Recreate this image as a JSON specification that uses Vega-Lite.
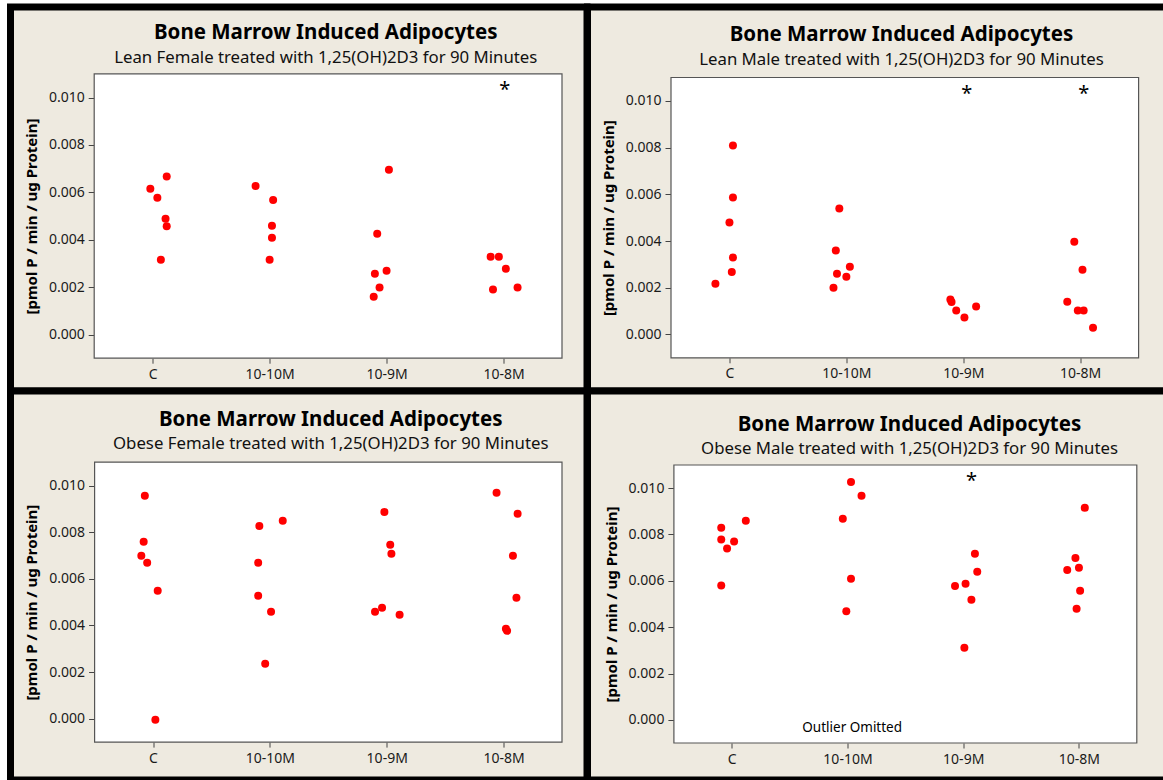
{
  "$schema": "https://vega.github.io/schema/vega-lite/v6.json",
  "background": "white",
  "padding": {"left": 6.5, "top": 3, "right": -7, "bottom": -3},
  "config": {
    "font": "Noto Sans",
    "view": {"fill": "#EEEAE0", "stroke": "#000000", "strokeWidth": 7},
    "title": {"font": "Noto Sans", "fontSize": 20.5, "fontWeight": "bold", "color": "#000000", "subtitleFont": "Noto Sans", "subtitleFontSize": 16.8, "subtitleColor": "#111111", "subtitlePadding": 6, "anchor": "middle", "frame": "group"},
    "axis": {"domain": false, "grid": false, "labelFont": "Noto Sans", "labelFontSize": 14, "labelColor": "#1a1a1a", "tickColor": "#444444", "titleFont": "Noto Sans", "titleFontSize": 15, "titleFontWeight": "bold", "titleColor": "#000000"}
  },
  "datasets": {
    "lf": [
      {"dose": "C", "v": 0.00615, "j": -0.02}, {"dose": "C", "v": 0.00577, "j": 0.04}, {"dose": "C", "v": 0.00667, "j": 0.12}, {"dose": "C", "v": 0.00488, "j": 0.11}, {"dose": "C", "v": 0.00457, "j": 0.12}, {"dose": "C", "v": 0.00315, "j": 0.07},
      {"dose": "10-10M", "v": 0.00627, "j": -0.12}, {"dose": "10-10M", "v": 0.00568, "j": 0.03}, {"dose": "10-10M", "v": 0.00459, "j": 0.02}, {"dose": "10-10M", "v": 0.00408, "j": 0.02}, {"dose": "10-10M", "v": 0.00315, "j": 0.0},
      {"dose": "10-9M", "v": 0.00695, "j": 0.02}, {"dose": "10-9M", "v": 0.00425, "j": -0.08}, {"dose": "10-9M", "v": 0.00256, "j": -0.1}, {"dose": "10-9M", "v": 0.00269, "j": 0.0}, {"dose": "10-9M", "v": 0.00198, "j": -0.06}, {"dose": "10-9M", "v": 0.00159, "j": -0.11},
      {"dose": "10-8M", "v": 0.00328, "j": -0.11}, {"dose": "10-8M", "v": 0.00328, "j": -0.04}, {"dose": "10-8M", "v": 0.00277, "j": 0.02}, {"dose": "10-8M", "v": 0.0019, "j": -0.09}, {"dose": "10-8M", "v": 0.00198, "j": 0.12}
    ],
    "lm": [
      {"dose": "C", "v": 0.00809, "j": 0.03}, {"dose": "C", "v": 0.00586, "j": 0.03}, {"dose": "C", "v": 0.00479, "j": 0.0}, {"dose": "C", "v": 0.00329, "j": 0.03}, {"dose": "C", "v": 0.00267, "j": 0.02}, {"dose": "C", "v": 0.00217, "j": -0.12},
      {"dose": "10-10M", "v": 0.00539, "j": -0.06}, {"dose": "10-10M", "v": 0.00359, "j": -0.09}, {"dose": "10-10M", "v": 0.0029, "j": 0.03}, {"dose": "10-10M", "v": 0.0026, "j": -0.08}, {"dose": "10-10M", "v": 0.00247, "j": 0.0}, {"dose": "10-10M", "v": 0.002, "j": -0.11},
      {"dose": "10-9M", "v": 0.0015, "j": -0.11}, {"dose": "10-9M", "v": 0.00139, "j": -0.1}, {"dose": "10-9M", "v": 0.00102, "j": -0.06}, {"dose": "10-9M", "v": 0.00072, "j": 0.01}, {"dose": "10-9M", "v": 0.0012, "j": 0.11},
      {"dose": "10-8M", "v": 0.00397, "j": -0.05}, {"dose": "10-8M", "v": 0.00277, "j": 0.02}, {"dose": "10-8M", "v": 0.0014, "j": -0.11}, {"dose": "10-8M", "v": 0.00102, "j": -0.02}, {"dose": "10-8M", "v": 0.00102, "j": 0.03}, {"dose": "10-8M", "v": 0.00029, "j": 0.11}
    ],
    "of": [
      {"dose": "C", "v": 0.00956, "j": -0.07}, {"dose": "C", "v": 0.00759, "j": -0.08}, {"dose": "C", "v": 0.00699, "j": -0.1}, {"dose": "C", "v": 0.00669, "j": -0.05}, {"dose": "C", "v": 0.00549, "j": 0.04}, {"dose": "C", "v": -0.00004, "j": 0.02},
      {"dose": "10-10M", "v": 0.00849, "j": 0.11}, {"dose": "10-10M", "v": 0.00827, "j": -0.09}, {"dose": "10-10M", "v": 0.00669, "j": -0.1}, {"dose": "10-10M", "v": 0.00527, "j": -0.1}, {"dose": "10-10M", "v": 0.00459, "j": 0.01}, {"dose": "10-10M", "v": 0.00236, "j": -0.04},
      {"dose": "10-9M", "v": 0.00887, "j": -0.02}, {"dose": "10-9M", "v": 0.00746, "j": 0.03}, {"dose": "10-9M", "v": 0.00707, "j": 0.04}, {"dose": "10-9M", "v": 0.00476, "j": -0.04}, {"dose": "10-9M", "v": 0.00459, "j": -0.1}, {"dose": "10-9M", "v": 0.00446, "j": 0.11},
      {"dose": "10-8M", "v": 0.00969, "j": -0.06}, {"dose": "10-8M", "v": 0.00879, "j": 0.12}, {"dose": "10-8M", "v": 0.00699, "j": 0.08}, {"dose": "10-8M", "v": 0.00519, "j": 0.11}, {"dose": "10-8M", "v": 0.00386, "j": 0.02}, {"dose": "10-8M", "v": 0.00377, "j": 0.03}
    ],
    "om": [
      {"dose": "C", "v": 0.00859, "j": 0.12}, {"dose": "C", "v": 0.00829, "j": -0.09}, {"dose": "C", "v": 0.00778, "j": -0.09}, {"dose": "C", "v": 0.0077, "j": 0.02}, {"dose": "C", "v": 0.0074, "j": -0.04}, {"dose": "C", "v": 0.0058, "j": -0.09},
      {"dose": "10-10M", "v": 0.01027, "j": 0.03}, {"dose": "10-10M", "v": 0.00967, "j": 0.12}, {"dose": "10-10M", "v": 0.00868, "j": -0.04}, {"dose": "10-10M", "v": 0.00609, "j": 0.03}, {"dose": "10-10M", "v": 0.00469, "j": -0.01},
      {"dose": "10-9M", "v": 0.00717, "j": 0.1}, {"dose": "10-9M", "v": 0.00639, "j": 0.12}, {"dose": "10-9M", "v": 0.00587, "j": 0.02}, {"dose": "10-9M", "v": 0.00578, "j": -0.07}, {"dose": "10-9M", "v": 0.00518, "j": 0.07}, {"dose": "10-9M", "v": 0.00311, "j": 0.01},
      {"dose": "10-8M", "v": 0.00915, "j": 0.05}, {"dose": "10-8M", "v": 0.00699, "j": -0.03}, {"dose": "10-8M", "v": 0.00656, "j": 0.0}, {"dose": "10-8M", "v": 0.00647, "j": -0.1}, {"dose": "10-8M", "v": 0.00557, "j": 0.01}, {"dose": "10-8M", "v": 0.00479, "j": -0.02}
    ],
    "lf_sig": [{"dose": "10-8M", "v": 0.0103, "j": 0.01, "label": "*"}],
    "lm_sig": [{"dose": "10-9M", "v": 0.0103, "j": 0.03, "label": "*"}, {"dose": "10-8M", "v": 0.0103, "j": 0.03, "label": "*"}],
    "om_sig": [{"dose": "10-9M", "v": 0.0103, "j": 0.07, "label": "*"}, {"dose": "10-10M", "v": -0.00035, "j": 0.04, "label": "Outlier Omitted"}]
  },
  "concat": [
    {
      "width": 576.5, "height": 384,
      "title": {"text": "Bone Marrow Induced Adipocytes", "subtitle": "Lean Female treated with 1,25(OH)2D3 for 90 Minutes", "offset": -59.6, "dx": 27},
      "layer": [
        {"data": {"values": [{}]}, "mark": {"type": "rect", "fill": "white", "stroke": "#555555", "strokeWidth": 1.2},
         "encoding": {
           "x": {"datum": 0, "type": "quantitative", "scale": {"domain": [0, 1], "range": [83.7, 551.5]}, "axis": null},
           "x2": {"datum": 1},
           "y": {"datum": -0.001, "type": "quantitative", "scale": {"domain": [-0.001, 0.011], "range": [351.2, 66.8], "nice": false, "zero": false}, "axis": {"title": "[pmol P / min / ug Protein]", "offset": -83.7, "values": [0, 0.002, 0.004, 0.006, 0.008, 0.01], "format": ".3f", "tickSize": 6, "labelPadding": 4, "titlePadding": 9}},
           "y2": {"datum": 0.011}
         }},
        {"layer": [
          {"data": {"name": "lf"}, "mark": {"type": "circle", "size": 64, "color": "#FF0000", "opacity": 1},
           "encoding": {
             "x": {"field": "dose", "type": "nominal", "scale": {"type": "point", "domain": ["C", "10-10M", "10-9M", "10-8M"], "range": [83.7, 551.5], "padding": 0.5}, "axis": {"orient": "bottom", "title": null, "offset": -32.8, "tickSize": 5, "labelPadding": 4, "labelAngle": 0}},
             "xOffset": {"field": "j", "type": "quantitative", "scale": {"domain": [-0.5, 0.5], "range": [-58.5, 58.5]}},
             "y": {"field": "v", "type": "quantitative", "scale": {"domain": [-0.001, 0.011], "range": [351.2, 66.8], "nice": false, "zero": false}, "axis": {"title": "[pmol P / min / ug Protein]", "offset": -83.7, "values": [0, 0.002, 0.004, 0.006, 0.008, 0.01], "format": ".3f", "tickSize": 6, "labelPadding": 4, "titlePadding": 9}}
           }},
          {"data": {"name": "lf_sig"}, "mark": {"type": "text", "fontSize": 20, "color": "#000000", "baseline": "middle", "align": "center"},
           "encoding": {
             "text": {"field": "label"},
             "x": {"field": "dose", "type": "nominal", "scale": {"type": "point", "domain": ["C", "10-10M", "10-9M", "10-8M"], "range": [83.7, 551.5], "padding": 0.5}, "axis": {"orient": "bottom", "title": null, "offset": -32.8, "tickSize": 5, "labelPadding": 4, "labelAngle": 0}},
             "xOffset": {"field": "j", "type": "quantitative", "scale": {"domain": [-0.5, 0.5], "range": [-58.5, 58.5]}},
             "y": {"field": "v", "type": "quantitative", "scale": {"domain": [-0.001, 0.011], "range": [351.2, 66.8], "nice": false, "zero": false}, "axis": {"title": "[pmol P / min / ug Protein]", "offset": -83.7, "values": [0, 0.002, 0.004, 0.006, 0.008, 0.01], "format": ".3f", "tickSize": 6, "labelPadding": 4, "titlePadding": 9}}
           }}
        ]}
      ],
      "resolve": {"scale": {"x": "independent"}, "axis": {"x": "independent"}}
    },
    {
      "width": 580, "height": 384,
      "title": {"text": "Bone Marrow Induced Adipocytes", "subtitle": "Lean Male treated with 1,25(OH)2D3 for 90 Minutes", "offset": -61.3, "dx": 24},
      "layer": [
        {"data": {"values": [{}]}, "mark": {"type": "rect", "fill": "white", "stroke": "#555555", "strokeWidth": 1.2},
         "encoding": {
           "x": {"datum": 0, "type": "quantitative", "scale": {"domain": [0, 1], "range": [83.5, 551.1]}, "axis": null},
           "x2": {"datum": 1},
           "y": {"datum": -0.001, "type": "quantitative", "scale": {"domain": [-0.001, 0.011], "range": [350.8, 70.5], "nice": false, "zero": false}, "axis": {"title": "[pmol P / min / ug Protein]", "offset": -83.5, "values": [0, 0.002, 0.004, 0.006, 0.008, 0.01], "format": ".3f", "tickSize": 6, "labelPadding": 4, "titlePadding": 9}},
           "y2": {"datum": 0.011}
         }},
        {"layer": [
          {"data": {"name": "lm"}, "mark": {"type": "circle", "size": 64, "color": "#FF0000", "opacity": 1},
           "encoding": {
             "x": {"field": "dose", "type": "nominal", "scale": {"type": "point", "domain": ["C", "10-10M", "10-9M", "10-8M"], "range": [83.5, 551.1], "padding": 0.5}, "axis": {"orient": "bottom", "title": null, "offset": -33.2, "tickSize": 5, "labelPadding": 4, "labelAngle": 0}},
             "xOffset": {"field": "j", "type": "quantitative", "scale": {"domain": [-0.5, 0.5], "range": [-58.45, 58.45]}},
             "y": {"field": "v", "type": "quantitative", "scale": {"domain": [-0.001, 0.011], "range": [350.8, 70.5], "nice": false, "zero": false}, "axis": {"title": "[pmol P / min / ug Protein]", "offset": -83.5, "values": [0, 0.002, 0.004, 0.006, 0.008, 0.01], "format": ".3f", "tickSize": 6, "labelPadding": 4, "titlePadding": 9}}
           }},
          {"data": {"name": "lm_sig"}, "mark": {"type": "text", "fontSize": 20, "color": "#000000", "baseline": "middle", "align": "center"},
           "encoding": {
             "text": {"field": "label"},
             "x": {"field": "dose", "type": "nominal", "scale": {"type": "point", "domain": ["C", "10-10M", "10-9M", "10-8M"], "range": [83.5, 551.1], "padding": 0.5}, "axis": {"orient": "bottom", "title": null, "offset": -33.2, "tickSize": 5, "labelPadding": 4, "labelAngle": 0}},
             "xOffset": {"field": "j", "type": "quantitative", "scale": {"domain": [-0.5, 0.5], "range": [-58.45, 58.45]}},
             "y": {"field": "v", "type": "quantitative", "scale": {"domain": [-0.001, 0.011], "range": [350.8, 70.5], "nice": false, "zero": false}, "axis": {"title": "[pmol P / min / ug Protein]", "offset": -83.5, "values": [0, 0.002, 0.004, 0.006, 0.008, 0.01], "format": ".3f", "tickSize": 6, "labelPadding": 4, "titlePadding": 9}}
           }}
        ]}
      ],
      "resolve": {"scale": {"x": "independent"}, "axis": {"x": "independent"}}
    },
    {
      "width": 576.5, "height": 389,
      "title": {"text": "Bone Marrow Induced Adipocytes", "subtitle": "Obese Female treated with 1,25(OH)2D3 for 90 Minutes", "offset": -62.1, "dx": 32},
      "layer": [
        {"data": {"values": [{}]}, "mark": {"type": "rect", "fill": "white", "stroke": "#555555", "strokeWidth": 1.2},
         "encoding": {
           "x": {"datum": 0, "type": "quantitative", "scale": {"domain": [0, 1], "range": [84.1, 551.5]}, "axis": null},
           "x2": {"datum": 1},
           "y": {"datum": -0.001, "type": "quantitative", "scale": {"domain": [-0.001, 0.011], "range": [351.1, 71.2], "nice": false, "zero": false}, "axis": {"title": "[pmol P / min / ug Protein]", "offset": -84.1, "values": [0, 0.002, 0.004, 0.006, 0.008, 0.01], "format": ".3f", "tickSize": 6, "labelPadding": 4, "titlePadding": 9}},
           "y2": {"datum": 0.011}
         }},
        {"layer": [
          {"data": {"name": "of"}, "mark": {"type": "circle", "size": 64, "color": "#FF0000", "opacity": 1},
           "encoding": {
             "x": {"field": "dose", "type": "nominal", "scale": {"type": "point", "domain": ["C", "10-10M", "10-9M", "10-8M"], "range": [84.1, 551.5], "padding": 0.5}, "axis": {"orient": "bottom", "title": null, "offset": -37.9, "tickSize": 5, "labelPadding": 4, "labelAngle": 0}},
             "xOffset": {"field": "j", "type": "quantitative", "scale": {"domain": [-0.5, 0.5], "range": [-58.4, 58.4]}},
             "y": {"field": "v", "type": "quantitative", "scale": {"domain": [-0.001, 0.011], "range": [351.1, 71.2], "nice": false, "zero": false}, "axis": {"title": "[pmol P / min / ug Protein]", "offset": -84.1, "values": [0, 0.002, 0.004, 0.006, 0.008, 0.01], "format": ".3f", "tickSize": 6, "labelPadding": 4, "titlePadding": 9}}
           }}
        ]}
      ],
      "resolve": {"scale": {"x": "independent"}, "axis": {"x": "independent"}}
    },
    {
      "width": 580, "height": 389,
      "title": {"text": "Bone Marrow Induced Adipocytes", "subtitle": "Obese Male treated with 1,25(OH)2D3 for 90 Minutes", "offset": -67.1, "dx": 32},
      "layer": [
        {"data": {"values": [{}]}, "mark": {"type": "rect", "fill": "white", "stroke": "#555555", "strokeWidth": 1.2},
         "encoding": {
           "x": {"datum": 0, "type": "quantitative", "scale": {"domain": [0, 1], "range": [86.4, 549.3]}, "axis": null},
           "x2": {"datum": 1},
           "y": {"datum": -0.001, "type": "quantitative", "scale": {"domain": [-0.001, 0.011], "range": [352, 74], "nice": false, "zero": false}, "axis": {"title": "[pmol P / min / ug Protein]", "offset": -86.4, "values": [0, 0.002, 0.004, 0.006, 0.008, 0.01], "format": ".3f", "tickSize": 6, "labelPadding": 4, "titlePadding": 9}},
           "y2": {"datum": 0.011}
         }},
        {"layer": [
          {"data": {"name": "om"}, "mark": {"type": "circle", "size": 64, "color": "#FF0000", "opacity": 1},
           "encoding": {
             "x": {"field": "dose", "type": "nominal", "scale": {"type": "point", "domain": ["C", "10-10M", "10-9M", "10-8M"], "range": [86.4, 549.3], "padding": 0.5}, "axis": {"orient": "bottom", "title": null, "offset": -37, "tickSize": 5, "labelPadding": 4, "labelAngle": 0}},
             "xOffset": {"field": "j", "type": "quantitative", "scale": {"domain": [-0.5, 0.5], "range": [-57.9, 57.9]}},
             "y": {"field": "v", "type": "quantitative", "scale": {"domain": [-0.001, 0.011], "range": [352, 74], "nice": false, "zero": false}, "axis": {"title": "[pmol P / min / ug Protein]", "offset": -86.4, "values": [0, 0.002, 0.004, 0.006, 0.008, 0.01], "format": ".3f", "tickSize": 6, "labelPadding": 4, "titlePadding": 9}}
           }},
          {"data": {"name": "om_sig"}, "mark": {"type": "text", "color": "#000000", "baseline": "middle", "align": "center"},
           "encoding": {
             "text": {"field": "label"},
             "size": {"condition": {"test": "datum.label === '*'", "value": 20}, "value": 13.5},
             "x": {"field": "dose", "type": "nominal", "scale": {"type": "point", "domain": ["C", "10-10M", "10-9M", "10-8M"], "range": [86.4, 549.3], "padding": 0.5}, "axis": {"orient": "bottom", "title": null, "offset": -37, "tickSize": 5, "labelPadding": 4, "labelAngle": 0}},
             "xOffset": {"field": "j", "type": "quantitative", "scale": {"domain": [-0.5, 0.5], "range": [-57.9, 57.9]}},
             "y": {"field": "v", "type": "quantitative", "scale": {"domain": [-0.001, 0.011], "range": [352, 74], "nice": false, "zero": false}, "axis": {"title": "[pmol P / min / ug Protein]", "offset": -86.4, "values": [0, 0.002, 0.004, 0.006, 0.008, 0.01], "format": ".3f", "tickSize": 6, "labelPadding": 4, "titlePadding": 9}}
           }}
        ]}
      ],
      "resolve": {"scale": {"x": "independent"}, "axis": {"x": "independent"}}
    }
  ],
  "columns": 2,
  "spacing": 0,
  "bounds": "flush",
  "align": "each"
}
